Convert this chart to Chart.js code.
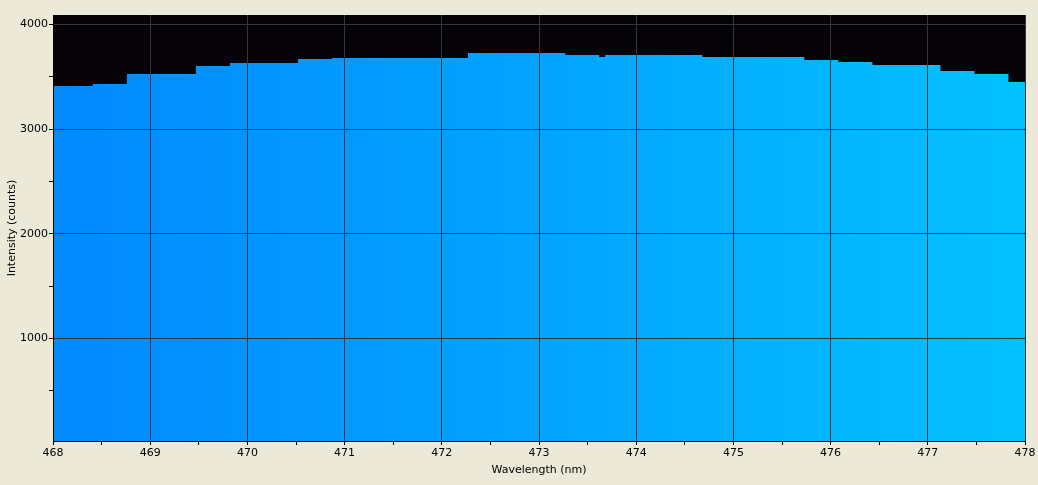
<!DOCTYPE html>
<html>
<head>
<meta charset="utf-8">
<script src="https://cdn.jsdelivr.net/npm/chart.js@4.4.0/dist/chart.umd.min.js"></script>
<style>
  html, body { margin: 0; padding: 0; background: #ECE9D8; }
  #wrap { width: 1038px; height: 485px; position: relative; }
</style>
</head>
<body>
<div id="wrap"><canvas id="myChart"></canvas></div>
<script>
  // step start positions (nm) and intensity of each step
  const wavelengths = [468, 468.41, 468.76, 469.47, 469.82, 470.52, 470.87, 472.27, 473.27, 473.62,
                       473.68, 474.68, 475.73, 476.08, 476.43, 477.13, 477.48, 477.83, 478];
  const intensity = [3411, 3430, 3525, 3602, 3630, 3669, 3678, 3726, 3707, 3688,
                     3707, 3688, 3659, 3640, 3611, 3554, 3525, 3449, 3449];

  // tick positions (major ones get labels + grid lines)
  const xTicks = [468, 468.5, 469, 469.5, 470, 470.5, 471, 471.5, 472, 472.5, 473,
                  473.5, 474, 474.5, 475, 475.5, 476, 476.5, 477, 477.5, 478];
  const yTicks = [500, 1000, 1500, 2000, 2500, 3000, 3500, 4000];

  const xMin = 468, xMax = 478;
  const yMin = 20, yMax = 4089;

  const points = wavelengths.map((w, i) => ({ x: w, y: intensity[i] }));

  const ctx = document.getElementById('myChart').getContext('2d');

  const plotBackground = {
    id: 'plotBackground',
    beforeDraw(chart) {
      const c = chart.ctx;
      const a = chart.chartArea;
      c.save();
      c.fillStyle = '#ECE9D8';
      c.fillRect(0, 0, chart.width, chart.height);
      c.fillStyle = '#050308';
      c.fillRect(a.left, a.top, a.right - a.left, a.bottom - a.top);
      c.restore();
    }
  };

  function spectrumFill(context) {
    const area = context.chart.chartArea;
    if (!area) return '#0590ff';
    const g = context.chart.ctx.createLinearGradient(area.left, 0, area.right, 0);
    g.addColorStop(0, 'rgb(2, 137, 255)');
    g.addColorStop(0.5, 'rgb(3, 164, 255)');
    g.addColorStop(1, 'rgb(4, 193, 255)');
    return g;
  }

  const font = { family: 'DejaVu Sans', size: 11 };
  const gridColor = '#363636';

  const myChart = new Chart(ctx, {
    type: 'line',
    data: {
      datasets: [
        {
          data: points,
          stepped: 'before', // hold each value until the next point
          fill: 'start',
          backgroundColor: spectrumFill,
          borderWidth: 0,
          pointRadius: 0
        }
      ]
    },
    plugins: [plotBackground],
    options: {
      responsive: true,
      maintainAspectRatio: false,
      animation: false,
      layout: { padding: { top: 15, right: 13, left: 0, bottom: 0 } },
      plugins: {
        legend: { display: false },
        tooltip: { enabled: false }
      },
      scales: {
        x: {
          type: 'linear',
          min: xMin,
          max: xMax,
          z: 1,
          afterFit(scale) { scale.height = 44; },
          afterBuildTicks(scale) { scale.ticks = xTicks.map(v => ({ value: v })); },
          border: { color: '#000', width: 1, z: 2 },
          grid: {
            z: 1,
            color: (c) => (c.tick && c.tick.value % 1 === 0 ? gridColor : 'rgba(0,0,0,0)'),
            tickColor: '#000',
            tickLength: 4
          },
          ticks: {
            maxRotation: 0,
            autoSkip: false,
            padding: 2,
            color: '#000',
            font: font,
            callback: (v) => (v % 1 === 0 ? String(v) : '')
          },
          title: {
            display: true,
            text: 'Wavelength (nm)',
            color: '#000',
            font: font,
            padding: { top: 0, bottom: 8 }
          }
        },
        y: {
          min: yMin,
          max: yMax,
          z: 1,
          afterFit(scale) { scale.width = 53; },
          afterBuildTicks(scale) { scale.ticks = yTicks.map(v => ({ value: v })); },
          border: { color: '#000', width: 1, z: 2 },
          grid: {
            z: 1,
            color: (c) => (c.tick && c.tick.value % 1000 === 0 ? gridColor : 'rgba(0,0,0,0)'),
            tickColor: '#000',
            tickLength: 4
          },
          ticks: {
            autoSkip: false,
            padding: 1,
            color: '#000',
            font: font,
            callback: (v) => (v % 1000 === 0 ? String(v) : '')
          },
          title: {
            display: true,
            text: 'Intensity (counts)',
            color: '#000',
            font: font,
            padding: { top: 6, bottom: 0 }
          }
        }
      }
    }
  });
</script>
</body>
</html>
